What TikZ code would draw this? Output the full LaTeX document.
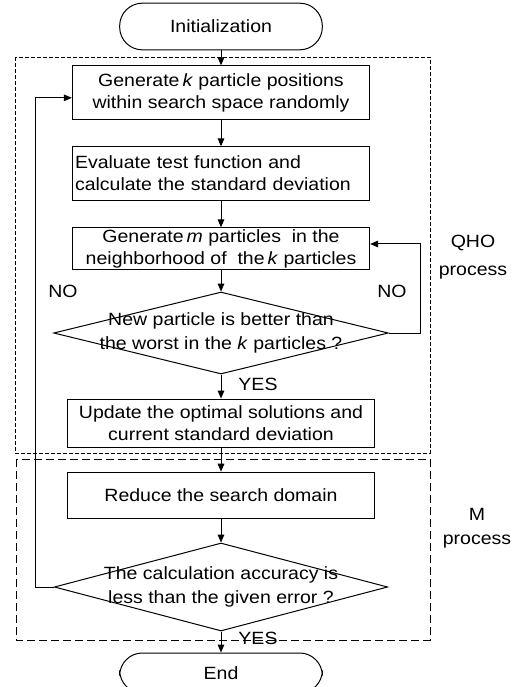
\documentclass[tikz,border=0pt]{standalone}
\usepackage{fontspec}
\setmainfont{Liberation Sans}[FakeStretch=1.1]
\usetikzlibrary{arrows.meta,shapes.geometric}

\begin{document}
\begin{tikzpicture}[x=0.75pt, y=-0.75pt,
	every node/.style={font=\fontsize{13.3}{16.5}\selectfont},
	arrow/.style={line width=0.75pt, -{Triangle[length=6pt,width=5pt]}},
	term/.style={draw, line width=0.75pt, rounded corners=17pt, minimum width=152pt, minimum height=35pt},
	proc/.style={draw, line width=0.75pt, minimum width=223pt, minimum height=40pt, align=center, inner sep=1pt},
	decision/.style={draw, line width=0.75pt, diamond, inner sep=0pt},
	dectext/.style={align=center, font=\fontsize{13.3}{18.5}\selectfont},
	qhoframe/.style={line width=0.75pt, dash pattern=on 3pt off 1.5pt},
	mframe/.style={line width=0.75pt, dash pattern=on 6pt off 3pt}]
	\useasboundingbox (0,0) rectangle (531,687);
	\clip (0,0) rectangle (531,687);
	\node[term] (init) at (221,26.5) {Initialization};
	\node[proc] (gen) at (221,92.5) {Generate\,\textit{k} particle positions\\within search space randomly};
	\node[proc, align=left, text width=219pt] (eval) at (221,173.5) {Evaluate test function and\\calculate the standard deviation};
	\node[proc, minimum height=31pt] (near) at (221,248.5) {Generate\,\textit{m} particles\ \ in the\\neighborhood of\ \ the\,\textit{k} particles};
	\node[decision, minimum width=251pt, minimum height=61.5pt] (better) at (221,333) {};
	\node[dectext] (bettertext) at (better) {New particle is better than\\the worst in the \textit{k} particles ?};
	\node[proc, minimum width=230pt, minimum height=36pt] (update) at (221,423) {Update the optimal solutions and\\current standard deviation};
	\node[proc, minimum width=230pt, minimum height=35pt] (reduce) at (221,495.5) {Reduce the search domain};
	\node[decision, minimum width=250pt, minimum height=66pt] (accur) at (221,587) {};
	\node[dectext] (accurtext) at (accur) {The calculation accuracy is\\less than the given error ?};
	\node[term, minimum height=30pt] (end) at (221,673) {End};
	% process frames
	\draw[qhoframe] (15,57) rectangle (430,453);
	\draw[mframe] (16,459) rectangle (430,640);
	\node[align=center, font=\fontsize{13.3}{21}\selectfont] (qho) at (473,257) {QHO\\process};
	\node[align=center, font=\fontsize{13.3}{18}\selectfont] (mproc) at (477,528) {M\\process};
	% labels
	\node (noleft) at (63,291) {NO};
	\node (noright) at (392,291) {NO};
	\node (yesup) at (258,384) {YES};
	\node (yesdown) at (258,638) {YES};
	% flow
	\draw[arrow] (init) -- (gen);
	\draw[arrow] (gen) -- (eval);
	\draw[arrow] (eval) -- (near);
	\draw[arrow] (near) -- (better);
	\draw[arrow] (better) -- (update);
	\draw[arrow] (update) -- (reduce);
	\draw[arrow] (reduce) -- (accur);
	\draw[arrow] (accur) -- (end);
	\draw[arrow] (better.east) -- ++(32,0) |- ([yshift=3.4pt]near.east);
	\draw[arrow] (accur.west) -- ++(-18,0) |- ([yshift=-4pt]gen.west);
\end{tikzpicture}
\end{document}
